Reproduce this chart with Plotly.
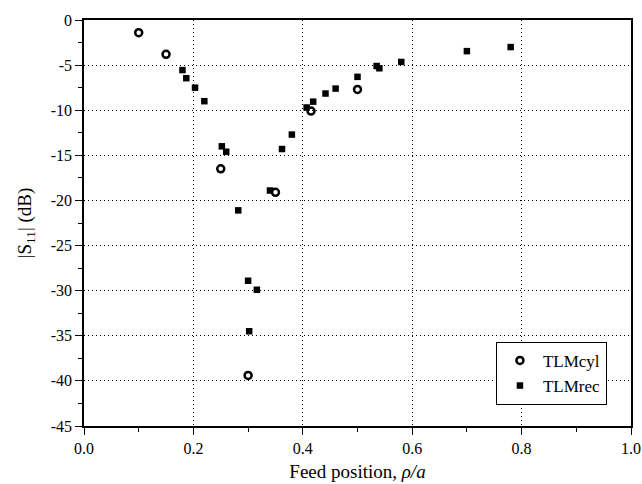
import plotly.graph_objects as go

# TLMcyl data
cyl_x = [0.10, 0.15, 0.25, 0.30, 0.35, 0.415, 0.50]
cyl_y = [-1.4, -3.8, -16.5, -39.4, -19.1, -10.1, -7.7]

# TLMrec data
rec_x = [0.18, 0.187, 0.203, 0.22, 0.252, 0.26, 0.282, 0.30, 0.302, 0.316,
         0.34, 0.362, 0.38, 0.407, 0.419, 0.4415, 0.46, 0.50, 0.535, 0.54,
         0.58, 0.70, 0.78]
rec_y = [-5.55, -6.45, -7.5, -9.0, -14.0, -14.6, -21.1, -28.9, -34.5, -29.9,
         -18.9, -14.3, -12.7, -9.7, -9.05, -8.15, -7.6, -6.3, -5.1, -5.35,
         -4.65, -3.45, -3.0]

x_ticks = [0.0, 0.2, 0.4, 0.6, 0.8, 1.0]
x_ticklabels = ["0.0", "0.2", "0.4", "0.6", "0.8", "1.0"]
y_ticks = [0, -5, -10, -15, -20, -25, -30, -35, -40, -45]
y_ticklabels = ["0", "-5", "-10", "-15", "-20", "-25", "-30", "-35", "-40", "-45"]

FONT = "Liberation Serif, Times New Roman, serif"

fig = go.Figure()
fig.add_trace(go.Scatter(
    x=cyl_x, y=cyl_y, mode="markers", name="TLMcyl",
    marker=dict(symbol="circle-open", size=7, color="black", line=dict(width=2.5, color="black")),
))
fig.add_trace(go.Scatter(
    x=rec_x, y=rec_y, mode="markers", name="TLMrec",
    marker=dict(symbol="square", size=6.5, color="black"),
))

axis_common = dict(
    showline=True, linecolor="black", linewidth=1.5, mirror=True,
    ticks="outside", ticklen=7, tickwidth=1.2, tickcolor="black",
    showgrid=True, gridcolor="black", griddash="1px,3px", gridwidth=1,
    zeroline=False, automargin=False,
    tickfont=dict(family=FONT, size=16, color="black"),
)

fig.update_xaxes(
    range=[0, 1], tickvals=x_ticks, ticktext=x_ticklabels,
    minor=dict(dtick=0.1, tick0=0, ticks="outside", ticklen=4, tickcolor="black", showgrid=False),
    title=dict(text="Feed position, <i>ρ/a</i>", font=dict(family=FONT, size=19, color="black"), standoff=9),
    **axis_common,
)
fig.update_yaxes(
    range=[-45, 0], tickvals=y_ticks, ticktext=y_ticklabels,
    minor=dict(dtick=2.5, tick0=0, ticks="outside", ticklen=4, tickcolor="black", showgrid=False),
    title=dict(text="|S<sub>11</sub>| (dB)", font=dict(family=FONT, size=19, color="black"), standoff=14),
    **axis_common,
)

fig.update_layout(
    width=642, height=484,
    margin=dict(l=84, r=11, t=20, b=58),
    plot_bgcolor="white", paper_bgcolor="white",
    font=dict(family=FONT, color="black"),
    legend=dict(
        x=0.956, y=0.052, xanchor="right", yanchor="bottom",
        bgcolor="white", bordercolor="black", borderwidth=1,
        font=dict(family=FONT, size=17, color="black"),
        tracegroupgap=0, itemwidth=36,
    ),
)

fig.write_html("out.html")
